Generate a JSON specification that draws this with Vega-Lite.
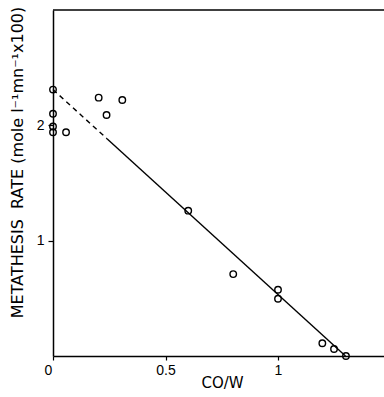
{
  "$schema": "https://vega.github.io/schema/vega-lite/v6.json",
  "autosize": {"type": "none"},
  "padding": {"left": 53, "top": 10, "right": 0, "bottom": 41},
  "width": 336,
  "height": 346,
  "background": "white",
  "view": {"stroke": null},
  "config": {
    "view": {"stroke": null},
    "axis": {
      "domainColor": "black",
      "domainWidth": 1.5,
      "tickColor": "black",
      "tickWidth": 1.2,
      "labelColor": "black",
      "titleColor": "black",
      "labelFont": "Liberation Sans",
      "titleFont": "DejaVu Sans",
      "grid": false
    }
  },
  "datasets": {
    "points": [
      {"x": 0.0, "y": 2.31},
      {"x": 0.0, "y": 2.10},
      {"x": 0.0, "y": 1.99},
      {"x": 0.0, "y": 1.94},
      {"x": 0.058, "y": 1.94},
      {"x": 0.203, "y": 2.24},
      {"x": 0.238, "y": 2.09},
      {"x": 0.308, "y": 2.22},
      {"x": 0.601, "y": 1.26},
      {"x": 0.801, "y": 0.71},
      {"x": 1.0, "y": 0.574},
      {"x": 1.0, "y": 0.496},
      {"x": 1.197, "y": 0.11},
      {"x": 1.249, "y": 0.061},
      {"x": 1.302, "y": 0.0}
    ],
    "dashed": [
      {"x": 0.0, "y": 2.31},
      {"x": 0.24, "y": 1.884}
    ],
    "solid": [
      {"x": 0.24, "y": 1.884},
      {"x": 1.30, "y": 0.0}
    ],
    "top": [{"y": 3}]
  },
  "layer": [
    {
      "data": {"name": "top"},
      "mark": {"type": "rule", "color": "black", "strokeWidth": 1.5},
      "encoding": {
        "y": {"field": "y", "type": "quantitative"}
      }
    },
    {
      "data": {"name": "dashed"},
      "mark": {"type": "line", "color": "black", "strokeWidth": 1.4, "strokeDash": [5, 4]},
      "encoding": {
        "x": {"field": "x", "type": "quantitative"},
        "y": {"field": "y", "type": "quantitative"}
      }
    },
    {
      "data": {"name": "solid"},
      "mark": {"type": "line", "color": "black", "strokeWidth": 1.4},
      "encoding": {
        "x": {"field": "x", "type": "quantitative"},
        "y": {"field": "y", "type": "quantitative"}
      }
    },
    {
      "data": {"name": "points"},
      "mark": {"type": "point", "shape": "circle", "filled": false, "color": "black", "size": 42, "strokeWidth": 1.4, "opacity": 1},
      "encoding": {
        "x": {
          "field": "x", "type": "quantitative",
          "scale": {"domain": [0, 1.4933], "nice": false, "zero": false},
          "axis": {
            "values": [0, 0.5, 1],
            "format": "~g",
            "title": "CO/W",
            "titleFontSize": 15,
            "titleFontWeight": "normal",
            "titleX": 169,
            "titleY": 26,
            "titleBaseline": "middle",
            "labelFontSize": 14,
            "labelFlush": false,
            "labelPadding": 3,
            "tickSize": 4,
            "labelOffset": {"condition": {"test": "datum.value == 0", "value": -5}, "value": 0}
          }
        },
        "y": {
          "field": "y", "type": "quantitative",
          "scale": {"domain": [0, 3], "nice": false, "zero": false},
          "axis": {
            "values": [1, 2],
            "format": "~g",
            "title": "METATHESIS\u00a0 RATE (mole l⁻¹mn⁻¹x100)",
            "titleFontSize": 16,
            "titleFontWeight": "normal",
            "titleAngle": -90,
            "titleX": -36,
            "titleY": 152,
            "titleAlign": "center",
            "titleBaseline": "middle",
            "labelFontSize": 14,
            "labelPadding": 4,
            "tickSize": 5
          }
        }
      }
    }
  ]
}
